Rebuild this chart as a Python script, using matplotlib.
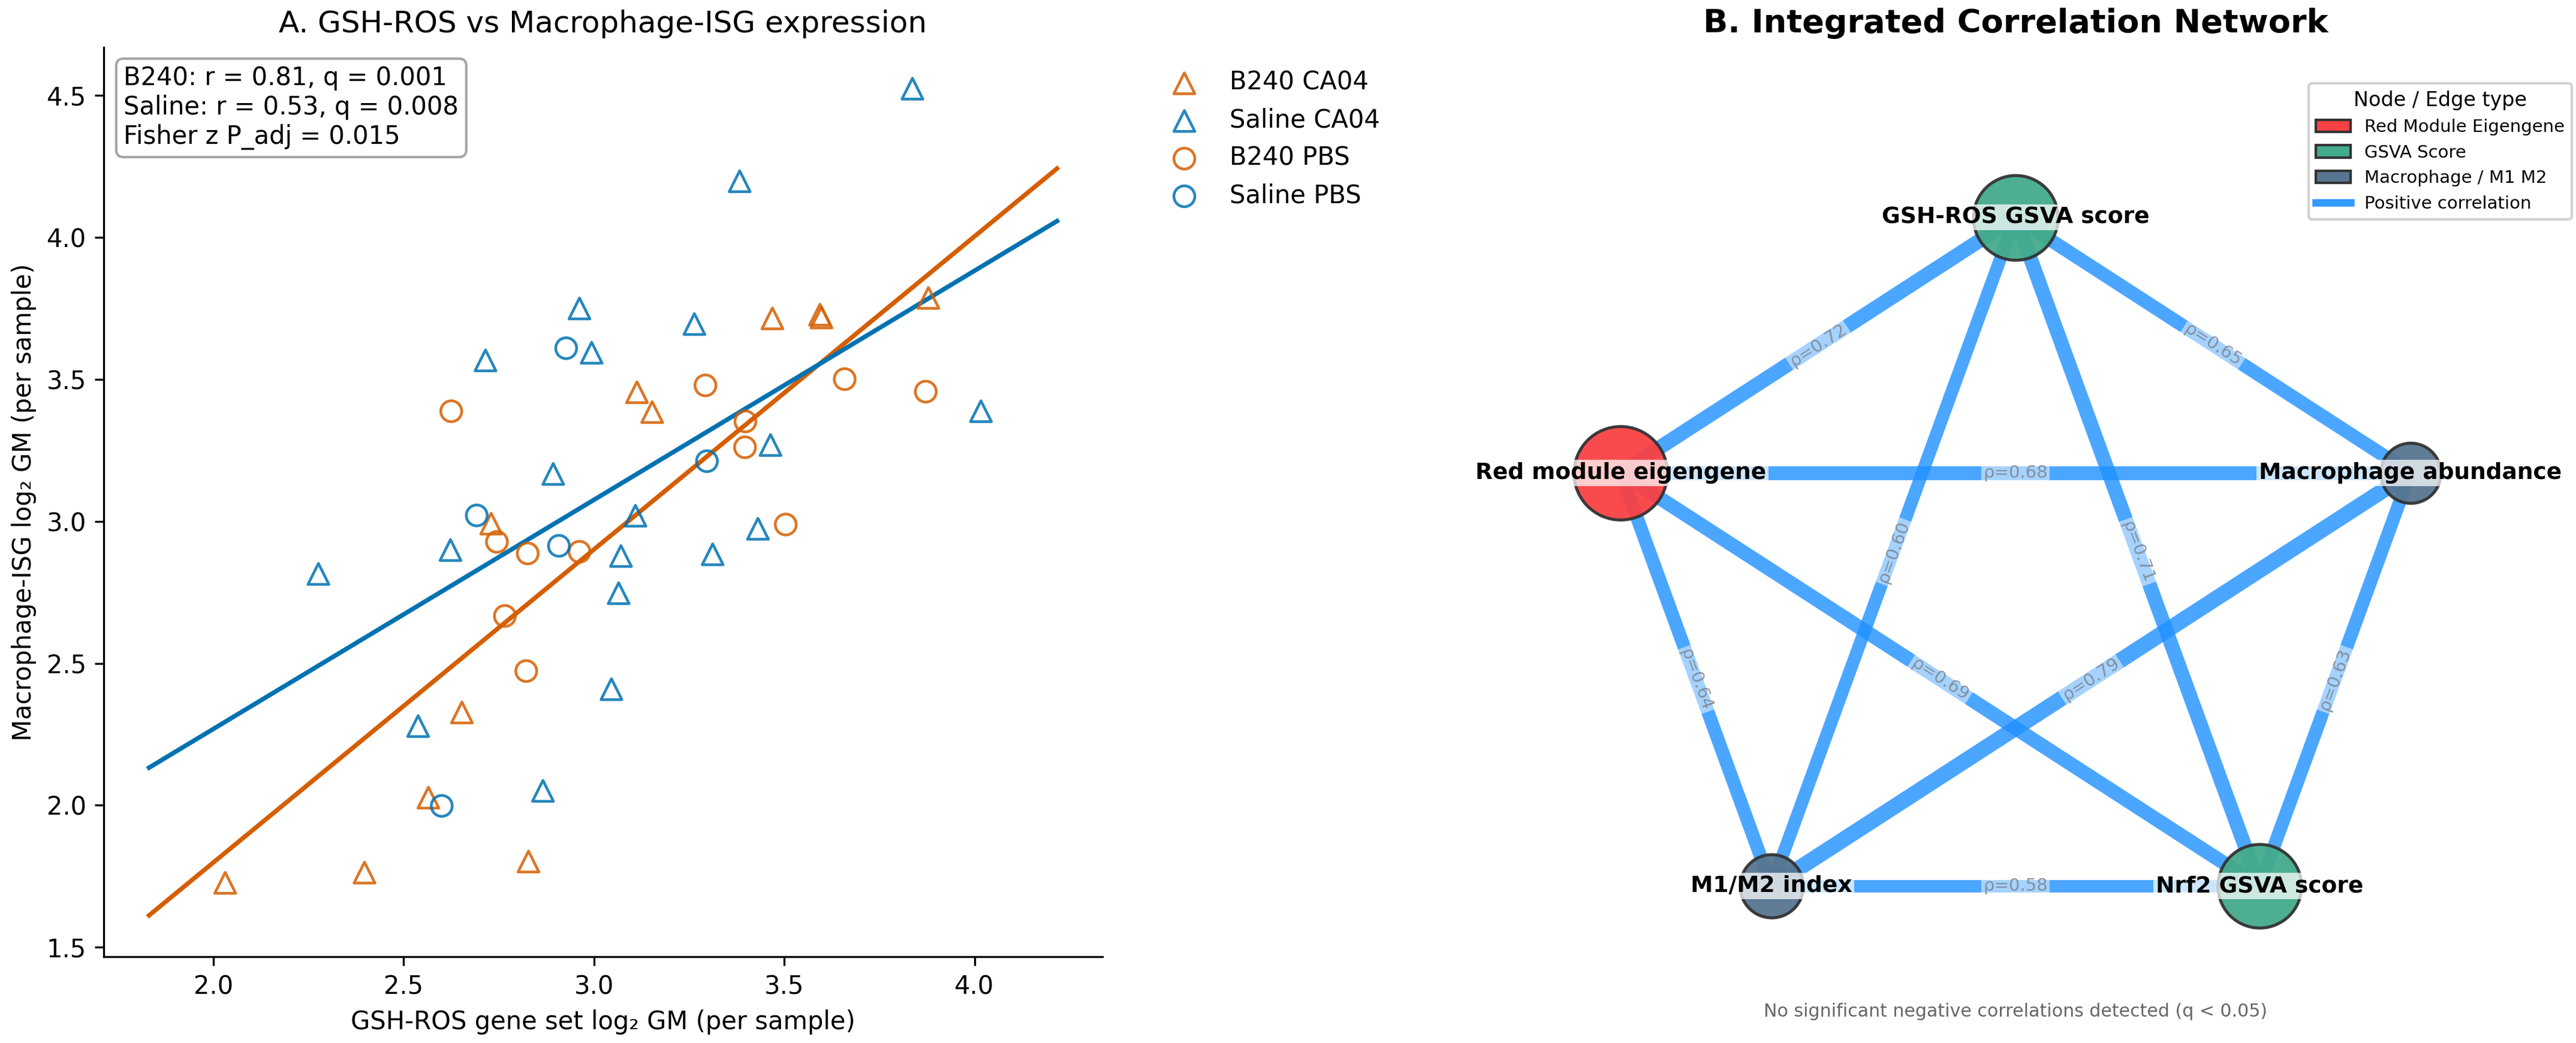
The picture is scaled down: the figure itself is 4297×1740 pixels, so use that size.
import numpy as np
import matplotlib.pyplot as plt
from matplotlib.patches import Patch
from matplotlib.lines import Line2D

# ---- panel A: per-sample log2 geometric means ----
b240_ca04_x = [3.469, 3.594, 3.598, 3.879, 3.113, 3.153, 2.730, 2.653, 2.565, 2.828, 2.397, 2.031]
b240_ca04_y = [3.715, 3.728, 3.718, 3.787, 3.455, 3.385, 2.992, 2.327, 2.027, 1.802, 1.763, 1.727]

saline_ca04_x = [3.837, 3.383, 2.962, 3.264, 2.715, 2.994, 4.017, 3.464, 2.893, 3.109,
                 3.431, 2.623, 3.071, 3.312, 2.276, 3.065, 3.046, 2.538, 2.866]
saline_ca04_y = [4.524, 4.198, 3.750, 3.695, 3.567, 3.594, 3.388, 3.269, 3.167, 3.020,
                 2.974, 2.899, 2.878, 2.884, 2.815, 2.747, 2.409, 2.279, 2.051]

b240_pbs_x = [2.625, 3.293, 3.659, 3.872, 3.398, 3.397, 3.504, 2.745, 2.826, 2.962, 2.766, 2.822]
b240_pbs_y = [3.388, 3.479, 3.501, 3.457, 3.352, 3.261, 2.989, 2.928, 2.887, 2.893, 2.667, 2.473]

saline_pbs_x = [2.927, 3.297, 2.692, 2.908, 2.600]
saline_pbs_y = [3.610, 3.212, 3.021, 2.914, 1.998]

stats_text = "B240: r = 0.81, q = 0.001\nSaline: r = 0.53, q = 0.008\nFisher z P_adj = 0.015"

# ---- panel B: correlation network ----
node_names = ["GSH-ROS GSVA score", "Red module eigengene", "M1/M2 index",
              "Nrf2 GSVA score", "Macrophage abundance"]
node_types = ["gsva", "module", "macro", "gsva", "macro"]
edge_a = ["GSH-ROS GSVA score", "GSH-ROS GSVA score", "Red module eigengene",
          "GSH-ROS GSVA score", "GSH-ROS GSVA score", "Red module eigengene",
          "Red module eigengene", "Macrophage abundance", "Macrophage abundance", "M1/M2 index"]
edge_b = ["Red module eigengene", "Macrophage abundance", "Macrophage abundance",
          "M1/M2 index", "Nrf2 GSVA score", "M1/M2 index",
          "Nrf2 GSVA score", "M1/M2 index", "Nrf2 GSVA score", "Nrf2 GSVA score"]
edge_rho = [0.72, 0.65, 0.68, 0.60, 0.71, 0.64, 0.69, 0.79, 0.63, 0.58]

ORANGE = "#D55E00"
BLUE = "#0072B2"
type_color = {"module": "#F94144", "gsva": "#43AA8B", "macro": "#577590"}
node_size = {"GSH-ROS GSVA score": 1150, "Red module eigengene": 1400, "M1/M2 index": 640,
             "Nrf2 GSVA score": 1120, "Macrophage abundance": 580}
EDGE_BLUE = "#1E90FF"

fig = plt.figure(figsize=(4297 / 300, 1740 / 300), dpi=300)

# ================= A =================
ax = fig.add_axes([0.04026, 0.08276, 0.38771, 0.87184])
groups = [
    (b240_ca04_x, b240_ca04_y, "^", ORANGE, "B240 CA04"),
    (saline_ca04_x, saline_ca04_y, "^", BLUE, "Saline CA04"),
    (b240_pbs_x, b240_pbs_y, "o", ORANGE, "B240 PBS"),
    (saline_pbs_x, saline_pbs_y, "o", BLUE, "Saline PBS"),
]
for gx, gy, mk, col, lab in groups:
    ax.scatter(gx, gy, marker=mk, s=70, facecolors="none", edgecolors=col,
               linewidths=1.1, alpha=0.85, label=lab, zorder=3)

all_x = np.array(b240_ca04_x + saline_ca04_x + b240_pbs_x + saline_pbs_x)
xs = np.linspace(all_x.min() - 0.2, all_x.max() + 0.2, 50)
bx = np.array(b240_ca04_x + b240_pbs_x)
by = np.array(b240_ca04_y + b240_pbs_y)
sx = np.array(saline_ca04_x + saline_pbs_x)
sy = np.array(saline_ca04_y + saline_pbs_y)
kb = np.polyfit(bx, by, 1)
ks = np.polyfit(sx, sy, 1)
ax.plot(xs, np.polyval(kb, xs), color=ORANGE, lw=1.8, zorder=2)
ax.plot(xs, np.polyval(ks, xs), color=BLUE, lw=1.8, zorder=2)

ax.text(0.02, 0.98, stats_text, transform=ax.transAxes, va="top", ha="left",
        fontsize=10, bbox=dict(boxstyle="round,pad=0.3", facecolor="white",
                               edgecolor="gray", alpha=0.7, lw=1.0))
ax.set_title("A. GSH-ROS vs Macrophage-ISG expression", fontsize=12)
ax.set_xlabel("GSH-ROS gene set log\u2082 GM (per sample)", fontsize=10)
ax.set_ylabel("Macrophage-ISG log\u2082 GM (per sample)", fontsize=10)
ax.tick_params(labelsize=10)
ax.set_xticks([2.0, 2.5, 3.0, 3.5, 4.0])
ax.set_yticks([1.5, 2.0, 2.5, 3.0, 3.5, 4.0, 4.5])
ax.spines["top"].set_visible(False)
ax.spines["right"].set_visible(False)
ax.legend(loc="upper left", bbox_to_anchor=(1.047, 0.986), borderaxespad=0,
          frameon=False, fontsize=10)

# ================= B =================
axn = fig.add_axes([0.56644, 0.08276, 0.43193, 0.87184])
axn.set_xlim(-1.34, 1.34)
axn.set_ylim(-1.0, 1.46)
axn.axis("off")

angles = np.deg2rad([90, 162, 234, 306, 18])
pos = {n: (np.cos(a), np.sin(a)) for n, a in zip(node_names, angles)}

for a, b, r in zip(edge_a, edge_b, edge_rho):
    (x1, y1), (x2, y2) = pos[a], pos[b]
    axn.plot([x1, x2], [y1, y2], color=EDGE_BLUE, lw=1.5 + 6 * r, alpha=0.8,
             solid_capstyle="butt", zorder=1)
    p1 = axn.transData.transform((x1, y1))
    p2 = axn.transData.transform((x2, y2))
    ang = np.degrees(np.arctan2(p2[1] - p1[1], p2[0] - p1[0]))
    if ang > 90:
        ang -= 180
    elif ang < -90:
        ang += 180
    axn.text((x1 + x2) / 2, (y1 + y2) / 2, f"\u03c1={r:.2f}", rotation=ang,
             rotation_mode="anchor", ha="center", va="center", fontsize=7,
             color="#7f8894", alpha=0.9, zorder=2,
             bbox=dict(boxstyle="square,pad=0.12", fc="white", ec="none", alpha=0.5))

for n, t in zip(node_names, node_types):
    x, y = pos[n]
    axn.scatter([x], [y], s=node_size[n], c=type_color[t], edgecolors="#333333",
                linewidths=1.2, alpha=0.95, zorder=3)
    axn.text(x, y, n, fontsize=9, fontweight="bold", ha="center", va="center", zorder=4,
             bbox=dict(boxstyle="square,pad=0.1", fc="white", ec="none", alpha=0.72))

axn.set_title("B. Integrated Correlation Network", fontsize=13, fontweight="bold")
handles = [
    Patch(facecolor=type_color["module"], edgecolor="#333333", label="Red Module Eigengene"),
    Patch(facecolor=type_color["gsva"], edgecolor="#333333", label="GSVA Score"),
    Patch(facecolor=type_color["macro"], edgecolor="#333333", label="Macrophage / M1 M2"),
    Line2D([0], [0], color=EDGE_BLUE, lw=3, alpha=0.9, label="Positive correlation"),
]
axn.legend(handles=handles, title="Node / Edge type", loc="upper right",
           bbox_to_anchor=(1.0, 0.9605), borderaxespad=0, fontsize=7,
           title_fontsize=8, framealpha=0.9)
axn.text(0.5, -0.06, "No significant negative correlations detected (q < 0.05)",
         transform=axn.transAxes, ha="center", va="center", fontsize=7.2, color="#666666")

fig.savefig("out.png", dpi=300)
